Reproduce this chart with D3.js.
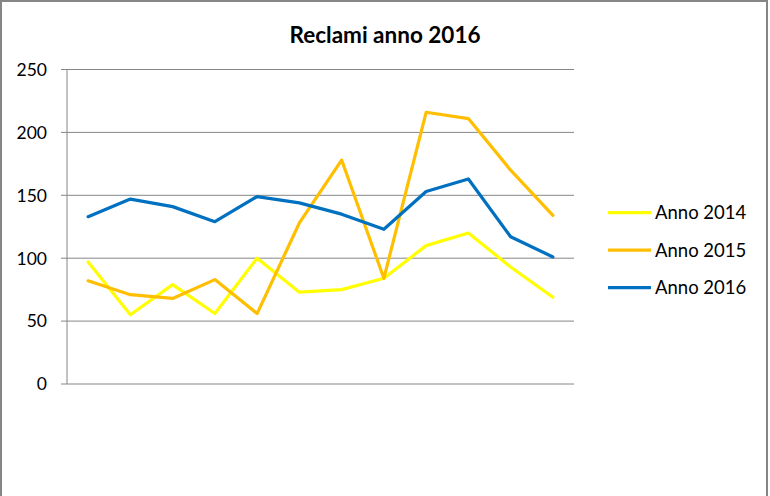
<!DOCTYPE html>
<html>
<head>
<meta charset="utf-8">
<script src="https://cdn.jsdelivr.net/npm/d3@7"></script>
<style>
  html, body { margin: 0; padding: 0; background: #fff; }
  svg { display: block; }
  text { font-family: Lato, "Open Sans", sans-serif; fill: #000; }
</style>
</head>
<body>
<svg id="chart" width="770" height="496"></svg>
<script>
const months = ["Gen","Feb","Mar","Apr","Mag","Giu","Lug","Ago","Set","Ott","Nov","Dic"];
const yTicks = [0, 50, 100, 150, 200, 250];
const seriesNames = ["Anno 2014", "Anno 2015", "Anno 2016"];
const anno2014 = [97, 55, 79, 56, 100, 73, 75, 84, 110, 120, 93, 69];
const anno2015 = [82, 71, 68, 83, 56, 128, 178, 84, 216, 211, 170, 134];
const anno2016 = [133, 147, 141, 129, 149, 144, 135, 123, 153, 163, 117, 101];
const colors = ["#FFFF00", "#FFBF00", "#0070C0"];

const series = [anno2014, anno2015, anno2016];

const svg = d3.select("#chart");

// outer frame
svg.append("rect")
  .attr("x", 1).attr("y", 1)
  .attr("width", 766).attr("height", 520)
  .attr("fill", "#fff")
  .attr("stroke", "#868686").attr("stroke-width", 2);

const plot = { left: 67, right: 574, top: 69.5, bottom: 384 };

const x = d3.scaleBand().domain(months).range([plot.left, plot.right]);
const y = d3.scaleLinear().domain([0, 250]).range([plot.bottom, plot.top]);

// gridlines
svg.append("g")
  .selectAll("line")
  .data(yTicks)
  .join("line")
  .attr("x1", plot.left - 6).attr("x2", plot.right)
  .attr("y1", d => y(d)).attr("y2", d => y(d))
  .attr("stroke", "#868686").attr("stroke-width", 1);

// y axis line
svg.append("line")
  .attr("x1", plot.left).attr("x2", plot.left)
  .attr("y1", plot.top).attr("y2", plot.bottom)
  .attr("stroke", "#868686").attr("stroke-width", 1);

// y tick labels
svg.append("g")
  .selectAll("text")
  .data(yTicks)
  .join("text")
  .attr("x", 47)
  .attr("y", d => y(d))
  .attr("dy", "0.36em")
  .attr("text-anchor", "end")
  .attr("font-size", 17.5)
  .text(d => d);

// lines
const line = d3.line()
  .x((d, i) => x(months[i]) + x.bandwidth() / 2)
  .y(d => y(d));

svg.append("g")
  .selectAll("path")
  .data(series)
  .join("path")
  .attr("d", d => line(d))
  .attr("fill", "none")
  .attr("stroke", (d, i) => colors[i])
  .attr("stroke-width", 3.2)
  .attr("stroke-linejoin", "round")
  .attr("stroke-linecap", "round");

// title
svg.append("text")
  .attr("x", 385).attr("y", 43)
  .attr("text-anchor", "middle")
  .attr("font-size", 22.5)
  .attr("font-weight", "bold")
  .text("Reclami anno 2016");

// legend
const legend = svg.append("g")
  .selectAll("g")
  .data(seriesNames)
  .join("g")
  .attr("transform", (d, i) => `translate(608, ${212.7 + i * 37.5})`);

legend.append("line")
  .attr("x1", 0).attr("x2", 43)
  .attr("y1", 0).attr("y2", 0)
  .attr("stroke", (d, i) => colors[i])
  .attr("stroke-width", 3.2);

legend.append("text")
  .attr("x", 47).attr("y", 0)
  .attr("dy", "0.36em")
  .attr("font-size", 18.5)
  .text(d => d);
</script>
</body>
</html>
